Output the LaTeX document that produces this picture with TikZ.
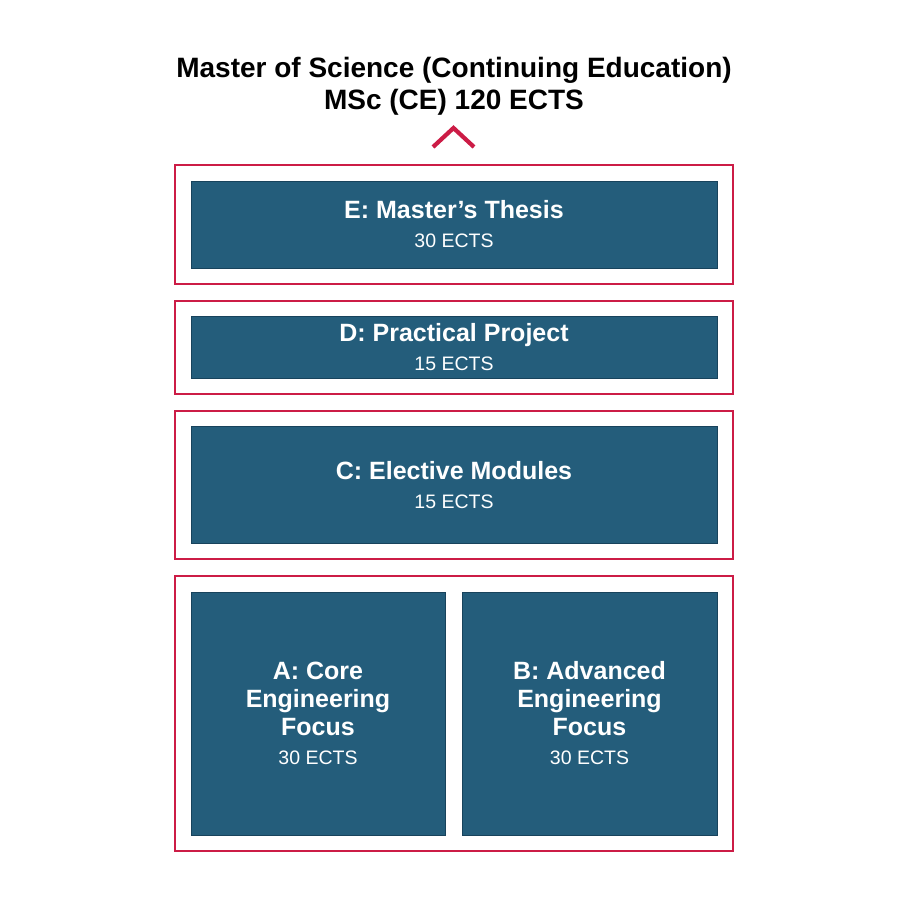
\documentclass[tikz,border=0pt]{standalone}
\usepackage{fontspec}
\setmainfont{Liberation Sans}
\usetikzlibrary{positioning}
\definecolor{modblue}{HTML}{245D7B}
\definecolor{modedge}{HTML}{18435C}
\definecolor{framered}{HTML}{CC1C46}
\newcommand{\ectsline}[1]{{\fontsize{19.5}{22}\selectfont\mdseries #1}}
\tikzset{
  every picture/.style={
    x=1pt, y=-1pt
  },
  frame/.style={
    draw=framered, line width=1.6pt,
    minimum width=558pt, inner sep=0pt
  },
  module/.style={
    draw=modedge, fill=modblue, line width=0.8pt,
    text=white, align=center, inner sep=0pt,
    font=\fontsize{25}{28}\selectfont\bfseries
  }
}
\begin{document}
\begin{tikzpicture}
  \useasboundingbox (0,0) rectangle (908,908);
  \node[align=center, font=\fontsize{28}{32}\selectfont\bfseries] (title)
    at (454,86) {Master of Science (Continuing Education)\\MSc (CE) 120 ECTS};
  \draw[framered, line width=4.2pt] (433,147) coordinate (chl) --
    (453.5,128) coordinate (chtop) -- (474,147) coordinate (chr);
  % outer frames
  \node[frame, minimum height=119pt] (frameE) at (454,224.5) {};
  \node[frame, minimum height=93pt] (frameD) at (454,347.5) {};
  \node[frame, minimum height=148pt] (frameC) at (454,485) {};
  \node[frame, minimum height=275pt] (frameAB) at (454,713.5) {};
  % modules
  \node[module, minimum width=526pt, minimum height=87pt] (modE)
    at (frameE) {E: Master’s Thesis\\[1pt]\ectsline{30 ECTS}};
  \node[module, minimum width=526pt, minimum height=62pt] (modD)
    at (frameD) {D: Practical Project\\[1pt]\ectsline{15 ECTS}};
  \node[module, minimum width=526pt, minimum height=117pt] (modC)
    at (frameC) {C: Elective Modules\\[1pt]\ectsline{15 ECTS}};
  \node[module, minimum width=254pt, minimum height=243pt] (modA)
    at (318,713.5) {A: Core\\Engineering\\Focus\\[1pt]\ectsline{30 ECTS}};
  \node[module, minimum width=255pt, minimum height=243pt] (modB)
    at (589.5,713.5) {B: Advanced\\Engineering\\Focus\\[1pt]\ectsline{30 ECTS}};
\end{tikzpicture}
\end{document}
